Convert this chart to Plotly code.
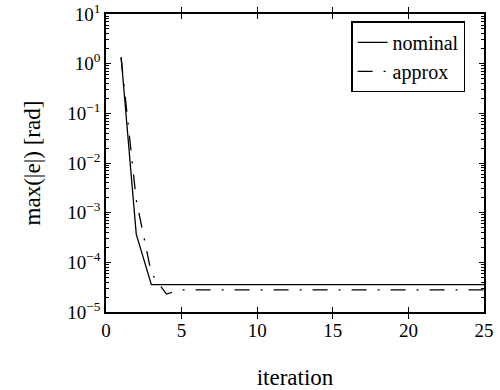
import plotly.graph_objects as go

# Convergence of the maximum error per iteration
iterations = list(range(1, 26))
nominal = [1.36, 3.7e-4, 3.55e-5] + [3.55e-5] * 22
approx = [1.3, 1.8e-3, 6.0e-5, 2.3e-5] + [2.8e-5] * 21

ytick_vals = [1e-5, 1e-4, 1e-3, 1e-2, 1e-1, 1e0, 1e1]
ytick_text = ["10<sup>−5</sup>", "10<sup>−4</sup>", "10<sup>−3</sup>", "10<sup>−2</sup>",
              "10<sup>−1</sup>", "10<sup>0</sup>", "10<sup>1</sup>"]
xtick_vals = [0, 5, 10, 15, 20, 25]

# minor ticks at 2..9 within each decade
minor_vals = [m * 10.0 ** e for e in range(-5, 1) for m in range(2, 10)]

FONT = "Liberation Serif, serif"
Y_RANGE = [-5, 1]

fig = go.Figure()
fig.add_trace(go.Scatter(
    x=iterations, y=nominal, mode="lines", name="nominal",
    line=dict(color="black", width=1.3),
))
fig.add_trace(go.Scatter(
    x=iterations, y=approx, mode="lines", name="approx",
    line=dict(color="black", width=1.3, dash="15px,11px,2px,11px"),
))
# empty trace so the minor-tick axis is drawn
fig.add_trace(go.Scatter(x=[None], y=[None], yaxis="y2", showlegend=False, hoverinfo="skip"))

fig.update_layout(
    width=500, height=390,
    margin=dict(l=106, r=16, t=14, b=78),
    paper_bgcolor="white", plot_bgcolor="white",
    font=dict(family=FONT, size=19, color="black"),
    showlegend=True,
    legend=dict(
        x=0.95, y=0.975, xanchor="right", yanchor="top",
        bgcolor="white", bordercolor="black", borderwidth=1.5,
        font=dict(family=FONT, size=20),
        tracegroupgap=0, itemwidth=30,
    ),
    xaxis=dict(
        range=[0, 25], tickvals=xtick_vals, automargin=False,
        ticks="inside", ticklen=5, tickwidth=1, tickcolor="black",
        showline=True, linecolor="black", linewidth=1.5, mirror="allticks",
        showgrid=False, zeroline=False,
        title=dict(text="iteration", standoff=30),
    ),
    yaxis=dict(
        type="log", range=Y_RANGE, automargin=False,
        tickvals=ytick_vals, ticktext=ytick_text,
        ticks="inside", ticklen=5, tickwidth=1, tickcolor="black",
        showline=True, linecolor="black", linewidth=1.5, mirror="allticks",
        showgrid=False, zeroline=False,
        title=dict(text="max(|e|) [rad]", standoff=20),
    ),
    yaxis2=dict(
        type="log", range=Y_RANGE, overlaying="y", anchor="x", side="left",
        automargin=False, tickmode="array", tickvals=minor_vals,
        ticks="inside", ticklen=3, tickwidth=1, tickcolor="black",
        showticklabels=False, showline=False, mirror="allticks",
        showgrid=False, zeroline=False,
    ),
)

fig.write_html("out.html")
